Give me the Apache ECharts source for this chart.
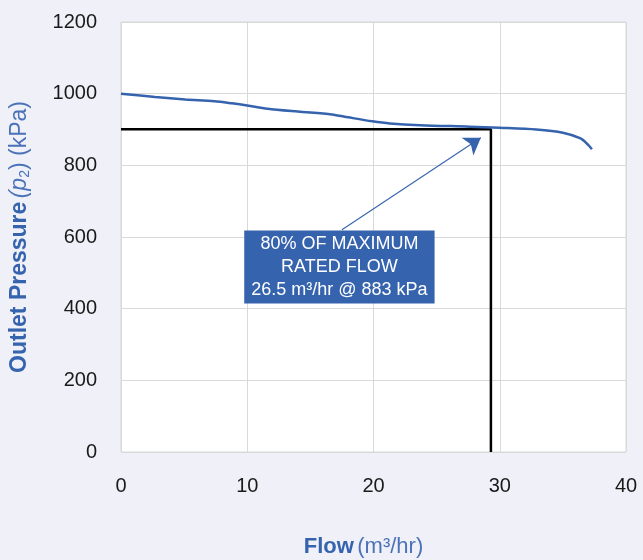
<!DOCTYPE html>
<html>
<head>
<meta charset="utf-8">
<script src="https://cdn.jsdelivr.net/npm/echarts@6/dist/echarts.min.js"></script>
<style>
  html, body { margin: 0; padding: 0; background: #eff0f8; }
  #chart { width: 643px; height: 560px; }
</style>
</head>
<body>
<div id="chart"></div>
<script>
// flow (m3/hr) vs outlet pressure (kPa)
const flow = [0, 2.7, 5.1, 7.4, 8.8, 10, 11.6, 14, 16.7, 18, 19.9, 21.3, 23.7, 27.6, 30, 32.9, 35, 36.4, 37, 37.3]
const pressure = [1000, 991, 984, 979, 973, 967, 958, 950, 942, 934, 923, 917, 912, 908, 905, 900, 891, 875, 857, 845]

// 80% rated flow guide lines
const guideX = [0, 29.3, 29.3]
const guideY = [901, 901, 0]

// annotation arrow: from label box to curve
const arrowFrom = [17.5, 620]
const arrowTo = [28.5, 877]
const noteAt = [17.3, 516]
const noteText = ['80% OF MAXIMUM', 'RATED FLOW', '26.5 m³/hr @ 883 kPa']

const xTicks = [0, 10, 20, 30, 40]
const yTicks = [0, 200, 400, 600, 800, 1000, 1200]

const blue = '#3563ae'
const font = 'Liberation Sans, Arial, sans-serif'

const chart = echarts.init(document.getElementById('chart'))
chart.setOption({
  backgroundColor: '#eff0f8',
  animation: false,
  textStyle: { fontFamily: font },
  grid: {
    left: 121,
    right: 17,
    top: 22,
    bottom: 108,
    outerBoundsMode: 'none',
    containLabel: false,
    show: true,
    backgroundColor: '#fff',
    borderColor: '#d9d9d9',
    borderWidth: 1
  },
  xAxis: {
    type: 'value',
    min: xTicks[0],
    max: xTicks[xTicks.length - 1],
    interval: 10,
    axisLine: { show: false },
    axisTick: { show: false },
    splitLine: { lineStyle: { color: '#d9d9d9', width: 1 } },
    axisLabel: { color: '#1a1a1a', fontSize: 20, margin: 24, fontFamily: font, formatter: v => String(v) },
    name: '{b|Flow} {n|(m³/hr)}',
    nameLocation: 'middle',
    nameGap: 84,
    nameTextStyle: {
      padding: [0, 20, 0, 0],
      rich: {
        b: { fontSize: 22, fontWeight: 'bold', color: blue, fontFamily: font },
        n: { fontSize: 22, color: '#4a72b8', fontFamily: font }
      }
    }
  },
  yAxis: {
    type: 'value',
    min: yTicks[0],
    max: yTicks[yTicks.length - 1],
    interval: 200,
    axisLine: { show: false },
    axisTick: { show: false },
    splitLine: { lineStyle: { color: '#d9d9d9', width: 1 } },
    axisLabel: { color: '#1a1a1a', fontSize: 20, margin: 24, fontFamily: font, formatter: v => String(v) },
    name: '{b|Outlet Pressure} {i|(p}{s|2}{n|) (kPa)}',
    nameLocation: 'middle',
    nameGap: 89,
    nameTextStyle: {
      rich: {
        b: { fontSize: 23, fontWeight: 'bold', color: blue, fontFamily: font },
        i: { fontSize: 23, fontStyle: 'italic', color: '#4a72b8', fontFamily: font },
        s: { fontSize: 14, color: '#4a72b8', fontFamily: font, verticalAlign: 'bottom', padding: [10, 0, 0, 0] },
        n: { fontSize: 23, color: '#4a72b8', fontFamily: font }
      }
    }
  },
  series: [
    {
      type: 'line',
      data: flow.map((f, i) => [f, pressure[i]]),
      smooth: 0.3,
      showSymbol: false,
      lineStyle: { color: blue, width: 2.5 },
      z: 3
    },
    {
      type: 'line',
      data: guideX.map((g, i) => [g, guideY[i]]),
      showSymbol: false,
      lineStyle: { color: '#000', width: 2.5 },
      z: 2
    },
    {
      type: 'lines',
      coordinateSystem: 'cartesian2d',
      symbol: ['none', 'arrow'],
      symbolSize: 16,
      lineStyle: { color: blue, width: 1.1, opacity: 1 },
      data: [{ coords: [arrowFrom, arrowTo] }],
      z: 4
    },
    {
      type: 'scatter',
      data: [noteAt],
      symbolSize: 0,
      silent: true,
      itemStyle: { opacity: 1 },
      z: 5,
      label: {
        show: true,
        position: 'inside',
        formatter: noteText.join('\n'),
        color: '#fff',
        fontSize: 18,
        lineHeight: 23,
        align: 'center',
        fontFamily: font,
        backgroundColor: blue,
        padding: [3, 7, 1, 7]
      }
    }
  ]
})
</script>
</body>
</html>
